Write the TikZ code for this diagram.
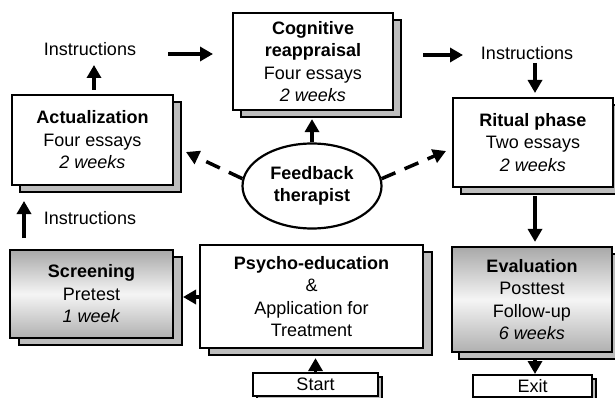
\documentclass[tikz,border=0pt]{standalone}
\usepackage{fontspec}
\setmainfont{Liberation Sans}
\usetikzlibrary{shadows,shapes.geometric,arrows.meta}
\definecolor{shadowgray}{gray}{0.74}
\tikzset{
  box/.style={draw=black, line width=2.2pt, fill=white, rectangle, align=center,
    font=\fontsize{18}{22.5}\selectfont, inner sep=0pt},
  shadowed/.style={copy shadow={shadow xshift=#1, shadow yshift=-7pt, fill=shadowgray, draw=black, line width=2pt}},
  graded/.style={top color=gray!68, bottom color=gray!62, middle color=gray!8},
  lbl/.style={font=\fontsize{18}{22}\selectfont, inner sep=0pt},
  arr/.style={line width=3.5pt, -{Triangle[length=13pt,width=14pt]}},
  darr/.style={arr, dash pattern=on 15pt off 10pt},
}
\begin{document}
\begin{tikzpicture}[x=1pt,y=-1pt]
\useasboundingbox (0,0) rectangle (615,398);
\clip (0,0) rectangle (615,398);
% boxes
\node[box, shadowed=8pt, minimum width=161, minimum height=90] (act) at (92.5,140)
  {\textbf{Actualization}\\Four essays\\\textit{2 weeks}};
\node[box, shadowed=8pt, minimum width=160, minimum height=97] (cog) at (313,61.5)
  {\textbf{Cognitive}\\\textbf{reappraisal}\\Four essays\\\textit{2 weeks}};
\node[box, shadowed=8pt, minimum width=160, minimum height=89] (rit) at (533,142.5)
  {\textbf{Ritual phase}\\Two essays\\\textit{2 weeks}};
\node[box, graded, shadowed=9pt, minimum width=163, minimum height=88] (scr) at (91.5,294)
  {\textbf{Screening}\\Pretest\\\textit{1 week}};
\node[box, shadowed=9pt, minimum width=223, minimum height=103] (psy) at (311.5,296.5)
  {\textbf{Psycho-education}\\\&\\Application for\\Treatment};
\node[box, graded, shadowed=7pt, minimum width=160, minimum height=105] (eva) at (532,299.5)
  {\textbf{Evaluation}\\Posttest\\Follow-up\\\textit{6 weeks}};
\node[box, copy shadow={shadow xshift=4pt, shadow yshift=-4pt, fill=shadowgray, draw=black, line width=1.6pt},
  line width=2pt, minimum width=125, minimum height=23] (start) at (315.5,384.5) {Start};
\node[box, copy shadow={shadow xshift=4pt, shadow yshift=-4pt, fill=shadowgray, draw=black, line width=1.6pt},
  line width=2pt, minimum width=119, minimum height=22] (exit) at (532.5,386) {Exit};
\node[box, ellipse, minimum width=139, minimum height=85] (fb) at (312,186)
  {\textbf{Feedback}\\\textbf{therapist}};
% labels
\node[lbl] (ins1) at (90,49) {Instructions};
\node[lbl] (ins2) at (527,53) {Instructions};
\node[lbl] (ins3) at (90,218) {Instructions};
% connector ends
\coordinate (a1s) at (94,90);   \coordinate (a1e) at (94,65);
\coordinate (a2s) at (168,54);  \coordinate (a2e) at (213,54);
\coordinate (a3s) at (423,55);  \coordinate (a3e) at (463,55);
\coordinate (a4s) at (535,63);  \coordinate (a4e) at (535,93);
\coordinate (a8e) at (183,297);
\coordinate (a9s) at (24,238);  \coordinate (a9e) at (24,201);
\coordinate (a11e) at (186,152);
\coordinate (a12e) at (446,151);
% connectors
\draw[arr] (a1s) -- (a1e);
\draw[arr] (a2s) -- (a2e);
\draw[arr] (a3s) -- (a3e);
\draw[arr] (a4s) -- (a4e);
\draw[arr, shorten <=8pt, shorten >=4pt] (rit.south -| a4s) -- (eva.north -| a4s);
\draw[arr, shorten <=7pt] (eva.south -| a4s) -- (exit.north -| a4s);
\draw[arr] (start.north) -- ([yshift=-9pt]psy.south -| start.north);
\draw[arr] (psy.west |- a8e) -- (a8e);
\draw[arr] (a9s) -- (a9e);
\draw[arr, shorten >=8pt] (fb.north) -- (cog.south -| fb.north);
\draw[darr] (fb.174) -- (a11e);
\draw[darr] (fb.6) -- (a12e);
\end{tikzpicture}
\end{document}
